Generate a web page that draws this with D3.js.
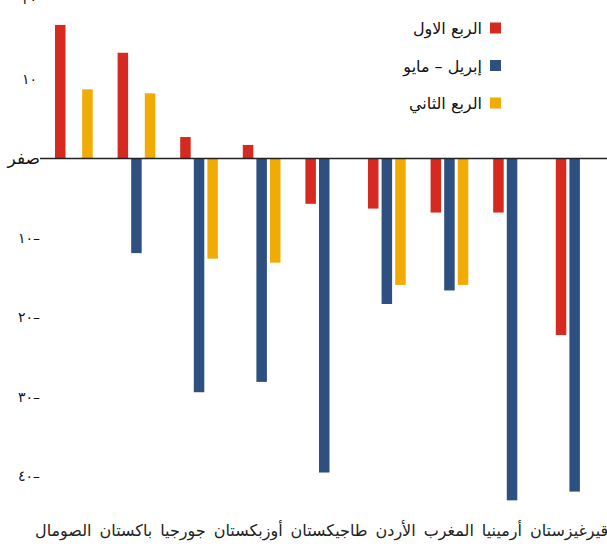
<!DOCTYPE html>
<html>
<head>
<meta charset="utf-8">
<script src="https://cdn.jsdelivr.net/npm/d3@7"></script>
<style>
  html, body { margin: 0; padding: 0; background: #fff; }
  svg { display: block; }
</style>
</head>
<body>
<svg id="chart" width="607" height="550"></svg>
<script>
// ---- data ----
const categories = ["الصومال","باكستان","جورجيا","أوزبكستان","طاجيكستان","الأردن","المغرب","أرمينيا","قيرغيزستان"];
const seriesNames = ["الربع الاول", "إبريل – مايو", "الربع الثاني"];
const q1Values    = [16.8, 13.3, 2.7, 1.7, -5.7, -6.3, -6.8, -6.8, -22.2];
const aprMayValues = [null, -11.9, -29.4, -28.1, -39.5, -18.3, -16.6, -43.0, -41.9];
const q2Values    = [8.7, 8.2, -12.6, -13.1, null, -15.9, -15.9, null, null];
const tickValues  = [20, 10, 0, -10, -20, -30, -40];
const tickLabels  = ["٢٠", "١٠", "صفر", "١٠–", "٢٠–", "٣٠–", "٤٠–"];
const colors      = ["#d6291f", "#2e5080", "#f1ab04"];

const allSeries = [q1Values, aprMayValues, q2Values];

const svg = d3.select("#chart");

const y = d3.scaleLinear().domain([20, -50]).range([-0.5, 556]);
const x0 = d3.scaleBand().domain(categories).range([55, 55 + 62.6 * categories.length]).padding(0);
const x1 = d3.scaleBand().domain(d3.range(3)).range([0, 37.7]).paddingInner(0.228).paddingOuter(0);

// bars
const rows = [];
categories.forEach((c, i) => {
  allSeries.forEach((s, k) => {
    if (s[i] !== null && s[i] !== undefined) rows.push({cat: c, k, v: s[i]});
  });
});

svg.append("g").selectAll("rect").data(rows).join("rect")
  .attr("x", d => x0(d.cat) + x1(d.k))
  .attr("width", x1.bandwidth())
  .attr("y", d => y(Math.max(0, d.v)))
  .attr("height", d => Math.abs(y(d.v) - y(0)))
  .attr("fill", d => colors[d.k]);

// zero line
svg.append("line")
  .attr("x1", 40).attr("x2", 607)
  .attr("y1", y(0)).attr("y2", y(0))
  .attr("stroke", "#222").attr("stroke-width", 1.6);

// y tick labels
const ticksG = svg.append("g");
tickValues.forEach((d, i) => {
  const t = ticksG.append("text")
    .attr("x", d === 0 ? 40 : (d > 0 ? 37 : 40))
    .attr("y", y(d))
    .attr("dy", "0.35em")
    .attr("text-anchor", "end")
    .attr("font-family", "'DejaVu Sans', sans-serif")
    .attr("font-size", d === 0 ? 17 : 14)
    .attr("fill", "#111")
    .text(tickLabels[i]);
  if (d < 0) t.style("direction", "ltr").style("unicode-bidi", "bidi-override");
});

// x category labels: flowed like a line of text
const labelG = svg.append("g");
let cursor = 35;
categories.forEach(c => {
  const t = labelG.append("text")
    .attr("x", cursor)
    .attr("y", 536)
    .attr("text-anchor", "middle")
    .attr("font-family", "'DejaVu Sans', sans-serif")
    .attr("font-size", 16)
    .attr("fill", "#222")
    .text(c);
  const w = t.node().getComputedTextLength();
  t.attr("x", cursor + w / 2);
  cursor += w + 8;
});

// legend
const legend = svg.append("g");
seriesNames.forEach((name, k) => {
  const cy = 28 + k * 37.5;
  legend.append("rect")
    .attr("x", 490).attr("y", cy - 5.5)
    .attr("width", 11).attr("height", 11)
    .attr("fill", colors[k]);
  legend.append("text")
    .attr("x", 482).attr("y", cy + 3)
    .attr("dy", "0.2em")
    .attr("text-anchor", "end")
    .attr("font-family", "'DejaVu Sans', sans-serif")
    .attr("font-size", 16)
    .attr("fill", "#111")
    .text(name);
});
</script>
</body>
</html>
